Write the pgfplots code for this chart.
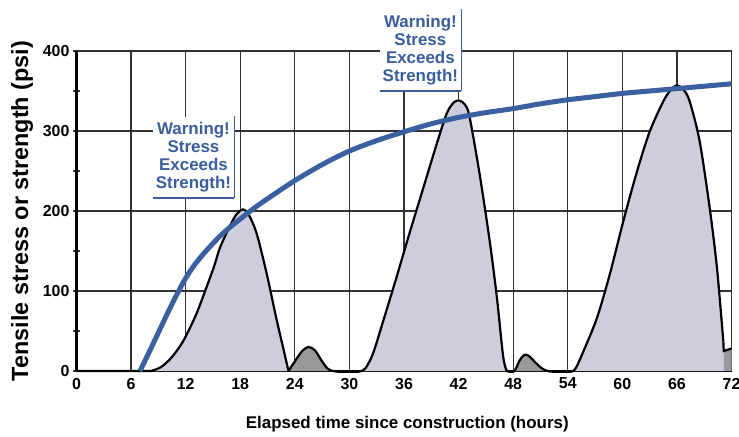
\documentclass[border=0pt]{standalone}
\usepackage{fontspec}
\setmainfont{Liberation Sans}
\usepackage{pgfplots}
\pgfplotsset{compat=1.18}
\definecolor{strblue}{HTML}{3A60A0}
\definecolor{txtblue}{HTML}{3A5E9C}
\definecolor{lav}{HTML}{CDCDDD}
\definecolor{hump}{HTML}{999999}
\definecolor{gridc}{HTML}{333333}
\begin{document}
\begin{tikzpicture}
\useasboundingbox (-76.5bp,-66bp) rectangle (662.5bp,371bp);
\begin{axis}[
  scale only axis, width=655bp, height=320bp,
  xmin=0, xmax=72, ymin=0, ymax=400,
  axis lines=left, axis line style={-, line width=2bp, black},
  xtick={0,6,...,72}, ytick={0,100,...,400},
  minor ytick={50,150,250,350},
  grid=major, major grid style={gridc, line width=1.3bp},
  xtick style={draw=none},
  ytick style={line width=1.3bp, gridc},
  minor tick length=7bp, major tick length=7bp, tick align=center,
  ticklabel style={font=\fontsize{16}{16}\selectfont\bfseries},
  /pgf/number format/assume math mode=true,
  clip=false,
  xlabel={Elapsed time since construction (hours)},
  ylabel={Tensile stress or strength (psi)},
  xlabel style={font=\fontsize{17}{18}\selectfont\bfseries, at={(axis description cs:0.505,-0.166)}, anchor=center},
  ylabel style={font=\fontsize{23.5}{24}\selectfont\bfseries, at={(axis description cs:-0.083,0.5)}, anchor=center},
]
% fills
\addplot[smooth, draw=none, fill=lav] coordinates {(8.3,0) (8.3,0.5) (9.3,5) (10.3,15) (11.2,28) (12,43) (13.2,72) (14.3,105) (15.1,130) (15.8,155) (16.9,182) (17.6,196) (18.3,202) (18.9,196) (19.8,172) (20.9,122) (22.0,64) (22.8,25) (23.3,0)} \closedcycle;
\addplot[smooth, draw=none, fill=hump] coordinates {(23.3,0) (24,12) (24.8,25) (25.5,30) (26.2,26) (27,12) (27.6,3) (28.2,0)} \closedcycle;
\addplot[smooth, draw=none, fill=lav] coordinates {(31.3,0) (31.8,4) (32.6,22) (33.7,62) (35.2,118) (36.6,172) (38.1,228) (39.6,284) (40.7,322) (41.5,336) (42.1,338) (42.7,333) (43.2,318) (44.3,247) (45.4,164) (46.2,93) (46.9,18) (47.3,0)} \closedcycle;
\addplot[smooth, draw=none, fill=hump] coordinates {(48.0,0) (48.3,3) (48.7,13) (49.2,20) (49.7,19) (50.5,10) (51.2,3) (51.8,0)} \closedcycle;
\addplot[smooth, draw=none, fill=lav] coordinates {(54.6,0) (55.0,6) (55.7,24) (57.2,66) (58.6,120) (60.1,187) (61.6,249) (63.0,299) (64.5,337) (65.3,351) (66.0,357) (66.7,352) (67.4,337) (68.5,287) (69.6,204) (70.4,129) (71.1,37) (71.15,25)} \closedcycle;
\addplot[draw=none, fill=hump] coordinates {(71.15,25) (72,28)} \closedcycle;
% stress line
\addplot[smooth, black, line width=2.2bp] coordinates {(0,0) (7.5,0) (8.3,0.5) (9.3,5) (10.3,15) (11.2,28) (12,43) (13.2,72) (14.3,105) (15.1,130) (15.8,155) (16.9,182) (17.6,196) (18.3,202) (18.9,196) (19.8,172) (20.9,122) (22.0,64) (22.8,25) (23.3,0)};
\addplot[smooth, black, line width=2.2bp] coordinates {(23.3,0) (24,12) (24.8,25) (25.5,30) (26.2,26) (27,12) (27.6,3) (28.2,0) (29,-1) (30.8,-1) (31.3,0) (31.8,4) (32.6,22) (33.7,62) (35.2,118) (36.6,172) (38.1,228) (39.6,284) (40.7,322) (41.5,336) (42.1,338) (42.7,333) (43.2,318) (44.3,247) (45.4,164) (46.2,93) (46.9,18) (47.3,0)};
\addplot[smooth, black, line width=2.2bp] coordinates {(47.3,0) (47.6,-1) (48.0,-1) (48.3,3) (48.7,13) (49.2,20) (49.7,19) (50.5,10) (51.2,3) (51.8,0) (52.5,-1) (54.0,-1) (54.6,0) (55.0,6) (55.7,24) (57.2,66) (58.6,120) (60.1,187) (61.6,249) (63.0,299) (64.5,337) (65.3,351) (66.0,357) (66.7,352) (67.4,337) (68.5,287) (69.6,204) (70.4,129) (71.1,37)};
\addplot[black, line width=2.2bp] coordinates {(71.1,37) (71.15,25) (72,28)};
% strength
\addplot[smooth, strblue, line width=5bp] coordinates {(6.98,0) (8,24) (9,48) (10,72) (11,95) (12,116) (13,133) (14,147) (15,159.5) (16,171) (17,181) (18,190) (19,199) (20,207.5) (22,223) (24,238) (27,258) (30,275) (33,288) (36,299) (39,309) (42,317) (45,323) (48,328) (51,334) (54,339) (57,343) (60,347) (63,350) (66,353) (69,356) (72,359)};
% boxes
\node[fill=white, inner xsep=3bp, inner ysep=6bp, align=center, text=txtblue, font=\fontsize{17}{18}\selectfont\bfseries] (b1) at (axis cs:12.86,267) {Warning!\\Stress\\Exceeds\\Strength!};
\draw[txtblue, line width=2bp] (b1.south west) -- (b1.south east);
\draw[txtblue, line width=1bp] (b1.south east) -- (b1.north east);
\node[fill=white, inner xsep=3bp, inner ysep=6bp, align=center, text=txtblue, font=\fontsize{17}{18}\selectfont\bfseries] (b2) at (axis cs:37.8,401) {Warning!\\Stress\\Exceeds\\Strength!};
\draw[txtblue, line width=2bp] (b2.south west) -- (b2.south east);
\draw[txtblue, line width=1bp] (b2.south east) -- (b2.north east);
\end{axis}
\end{tikzpicture}
\end{document}
